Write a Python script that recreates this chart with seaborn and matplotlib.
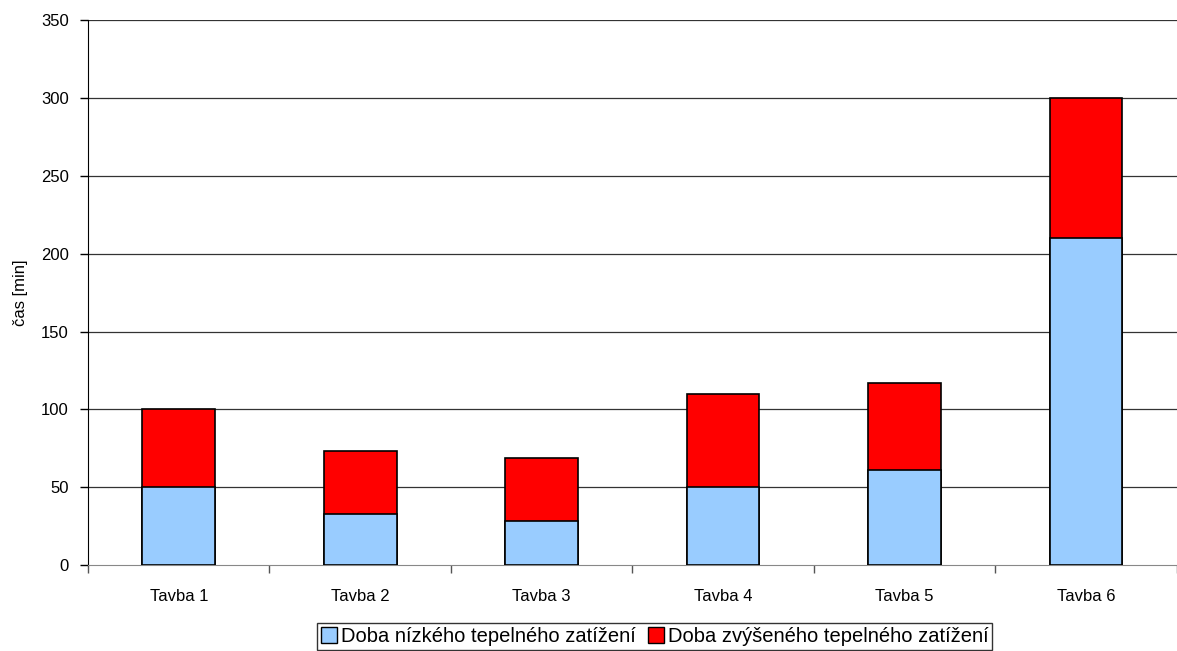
import numpy as np
import pandas as pd
import matplotlib
matplotlib.use("Agg")
import matplotlib.pyplot as plt
import seaborn as sns
from matplotlib.patches import Patch

tavby = ["Tavba 1", "Tavba 2", "Tavba 3", "Tavba 4", "Tavba 5", "Tavba 6"]
nizke = [50, 33, 28, 50, 61, 210]
zvysene = [50, 40, 41, 60, 56, 90]

sns.set_style("white")
plt.rcParams['font.family'] = ['Liberation Sans', 'DejaVu Sans']
plt.rcParams['font.size'] = 12
plt.rcParams['text.color'] = 'black'
plt.rcParams['axes.labelcolor'] = 'black'
plt.rcParams['xtick.color'] = 'black'
plt.rcParams['ytick.color'] = 'black'

df = pd.DataFrame({"tavba": tavby, "nizke": nizke, "zvysene": zvysene})
df["celkem"] = df["nizke"] + df["zvysene"]

fig = plt.figure(figsize=(11.77, 6.51), dpi=100)
ax = fig.add_axes([0.0748, 0.132, 0.925, 0.837])

for y in range(50, 351, 50):
    ax.axhline(y, color="#333333", lw=0.9, zorder=0)

# total first (red), then the lower part (blue) on top
sns.barplot(data=df, x="tavba", y="celkem", color="#ff0000", width=0.4,
            edgecolor="black", linewidth=1.2, saturation=1, ax=ax, zorder=2)
sns.barplot(data=df, x="tavba", y="nizke", color="#99ccff", width=0.4,
            edgecolor="black", linewidth=1.2, saturation=1, ax=ax, zorder=3)

ax.set_xlim(-0.5, 5.5)
ax.set_ylim(0, 350)
ax.set_yticks(range(0, 351, 50))
ax.set_xlabel("")
ax.set_ylabel("čas [min]", fontsize=12)
ax.yaxis.set_label_coords(-0.055, 0.5)

ax.set_xticks(np.arange(-0.5, 6, 1), minor=True)
ax.tick_params(axis="x", which="major", length=0, pad=17, labelsize=12)
ax.tick_params(axis="x", which="minor", length=6, color="#555555", width=1, bottom=True)
ax.tick_params(axis="y", length=6, color="black", width=1, left=True, labelsize=12, pad=8)

for s in ["top", "right"]:
    ax.spines[s].set_visible(False)
ax.spines["left"].set_color("black")
ax.spines["bottom"].set_color("#888888")

handles = [Patch(facecolor="#99ccff", edgecolor="black", label="Doba nízkého tepelného zatížení"),
           Patch(facecolor="#ff0000", edgecolor="black", label="Doba zvýšeného tepelného zatížení")]
fig.legend(handles=handles, loc="center", bbox_to_anchor=(0.556, 0.022), ncol=2,
           frameon=True, fancybox=False, edgecolor="black", fontsize=14.5,
           handlelength=0.8, handleheight=0.8, handletextpad=0.2, columnspacing=0.6,
           borderpad=0.2)

fig.savefig("out.png", dpi=100)
